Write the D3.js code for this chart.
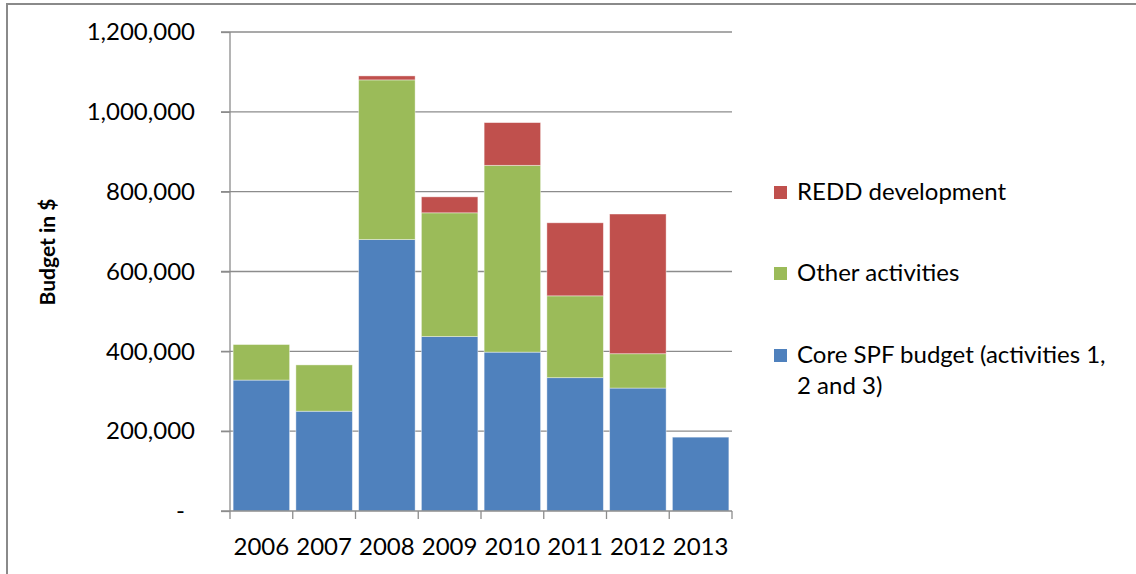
<!DOCTYPE html>
<html>
<head>
<meta charset="utf-8">
<script src="https://cdn.jsdelivr.net/npm/d3@7"></script>
<style>
  html, body { margin: 0; padding: 0; background: #fff; }
  svg { display: block; font-family: Lato, "Open Sans", sans-serif; }
</style>
</head>
<body>
<svg id="chart" width="1136" height="574"></svg>
<script>
const years = ["2006", "2007", "2008", "2009", "2010", "2011", "2012", "2013"];
const coreSPF = [328000, 250000, 680000, 437000, 398000, 334000, 308000, 185000];
const otherActivities = [89000, 116000, 400000, 310000, 468000, 205000, 86000, 0];
const reddDevelopment = [0, 0, 10000, 40000, 107000, 183000, 350000, 0];
const seriesNames = ["Core SPF budget (activities 1, 2 and 3)", "Other activities", "REDD development"];
const seriesColors = ["#4F81BD", "#9BBB59", "#C0504D"];
const yTicks = [0, 200000, 400000, 600000, 800000, 1000000, 1200000];
const yTitle = "Budget in $";

const svg = d3.select("#chart");

// outer frame
svg.append("rect")
  .attr("x", 7).attr("y", 4).attr("width", 1200).attr("height", 700)
  .attr("fill", "none").attr("stroke", "#8a8a8a").attr("stroke-width", 2);

const x = d3.scaleBand().domain(years).range([230, 732]).paddingInner(0.1).paddingOuter(0.05);
const y = d3.scaleLinear().domain([0, 1200000]).range([511, 32]);

// gridlines
svg.append("g").selectAll("line").data(yTicks.filter(v => v > 0)).join("line")
  .attr("x1", 221).attr("x2", 732)
  .attr("y1", d => y(d)).attr("y2", d => y(d))
  .attr("stroke", "#8c8c8c").attr("stroke-width", 1.3);

// stacked data
const rows = years.map((yr, i) => ({ year: yr, core: coreSPF[i], other: otherActivities[i], redd: reddDevelopment[i] }));
const stack = d3.stack().keys(["core", "other", "redd"]);
const stacked = stack(rows);

svg.append("g").selectAll("g").data(stacked).join("g")
  .attr("fill", (d, i) => seriesColors[i])
  .selectAll("rect").data(d => d.filter(p => p[1] - p[0] > 0)).join("rect")
  .attr("x", d => x(d.data.year))
  .attr("width", x.bandwidth())
  .attr("y", d => y(d[1]))
  .attr("height", d => y(d[0]) - y(d[1]))
  .attr("stroke", "#ffffff").attr("stroke-opacity", 0.5).attr("stroke-width", 0.8);

// y axis
const fmt = d3.format(",");
const yAxis = d3.axisLeft(y).tickValues(yTicks).tickSize(9).tickPadding(26)
  .tickFormat(v => v === 0 ? "-" : fmt(v));
const gy = svg.append("g").attr("transform", "translate(230,0)").call(yAxis);
gy.select(".domain").attr("stroke", "#8c8c8c").attr("stroke-width", 1.3).attr("d", "M0,32V511");
gy.selectAll(".tick line").attr("stroke", "#8c8c8c").attr("stroke-width", 1.3);
gy.selectAll(".tick text").attr("font-size", 24).attr("fill", "#000").attr("font-family", "Lato, sans-serif");
gy.selectAll(".tick").filter(d => d === 0).select("text").attr("dx", -10);

// x axis
const boundaries = d3.range(years.length + 1).map(i => x.range()[0] + i * x.step());
const gx = svg.append("g");
gx.append("line").attr("x1", 221).attr("x2", 732).attr("y1", y(0)).attr("y2", y(0))
  .attr("stroke", "#8c8c8c").attr("stroke-width", 1.3);
gx.selectAll("line.tk").data(boundaries).join("line").attr("class", "tk")
  .attr("x1", d => d).attr("x2", d => d).attr("y1", y(0)).attr("y2", y(0) + 8)
  .attr("stroke", "#8c8c8c").attr("stroke-width", 1.3);
gx.selectAll("text").data(years).join("text")
  .attr("x", d => x(d) + x.bandwidth() / 2)
  .attr("y", 555)
  .attr("text-anchor", "middle")
  .attr("font-size", 24).attr("fill", "#000")
  .text(d => d);

// y title
svg.append("text")
  .attr("transform", "translate(55,252) rotate(-90)")
  .attr("text-anchor", "middle")
  .attr("font-size", 21).attr("font-weight", "bold").attr("fill", "#000")
  .text(yTitle);

// legend (top to bottom: REDD, Other, Core)
const legendItems = [
  { lines: [seriesNames[2]], color: seriesColors[2], base: 200 },
  { lines: [seriesNames[1]], color: seriesColors[1], base: 281 },
  { lines: ["Core SPF budget (activities 1,", "2 and 3)"], color: seriesColors[0], base: 363 }
];
const lg = svg.append("g").selectAll("g").data(legendItems).join("g");
lg.append("rect").attr("x", 774).attr("y", d => d.base - 14).attr("width", 13).attr("height", 13)
  .attr("fill", d => d.color);
lg.append("text").attr("font-size", 24).attr("fill", "#000")
  .selectAll("tspan").data(d => d.lines.map((l, i) => ({ l, i, base: d.base }))).join("tspan")
  .attr("x", 797).attr("y", d => d.base + d.i * 31).text(d => d.l);
</script>
</body>
</html>
